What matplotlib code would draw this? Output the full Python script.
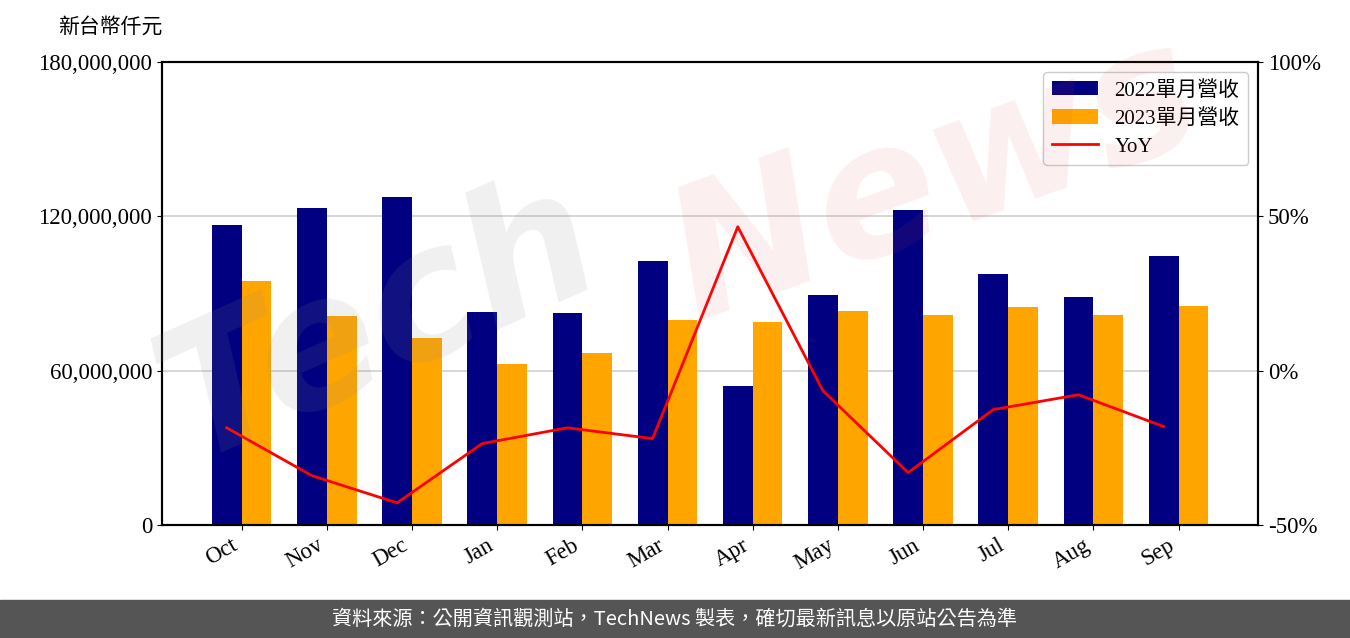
import numpy as np
import matplotlib
matplotlib.use("Agg")
from matplotlib import pyplot as plt
from matplotlib.ticker import FuncFormatter

plt.rcParams['font.family'] = ['Liberation Serif', 'Noto Sans CJK TC']

# Monthly revenue (NT$ thousand)
months = ['Oct', 'Nov', 'Dec', 'Jan', 'Feb', 'Mar', 'Apr', 'May', 'Jun', 'Jul', 'Aug', 'Sep']
rev_2022 = [116.6e6, 123.2e6, 127.5e6, 82.8e6, 82.4e6, 102.6e6, 54.0e6, 89.4e6, 122.5e6, 97.6e6, 88.6e6, 104.6e6]
rev_2023 = [94.9e6, 81.3e6, 72.7e6, 62.6e6, 66.9e6, 79.7e6, 78.9e6, 83.2e6, 81.6e6, 84.8e6, 81.6e6, 85.1e6]
yoy = [-18.5, -34.0, -42.8, -23.6, -18.5, -22.0, 46.6, -6.5, -33.0, -12.6, -7.8, -18.1]

fig = plt.figure(figsize=(13.5, 6.38), dpi=100)
ax = fig.add_axes([0.12, 0.177, 0.812, 0.726])

x = np.arange(len(months))
w = 0.35
b1 = ax.bar(x, rev_2022, w, color='#000080')
b2 = ax.bar(x + w, rev_2023, w, color='#FFA500')
ax.set_ylim(0, 180e6)
ax.set_yticks([0, 60e6, 120e6, 180e6])
ax.yaxis.set_major_formatter(FuncFormatter(lambda v, p: f'{int(v):,}'))
ax.set_xticks(x + w / 2)
ax.set_xticklabels(months, rotation=30, ha='right')
ax.tick_params(labelsize=16.5)
ax.grid(axis='y', color='#d0d0d0', linewidth=1.2)
ax.set_axisbelow(True)
for s in ax.spines.values():
    s.set_linewidth(1.5)

ax2 = ax.twinx()
l1, = ax2.plot(x, yoy, color='red', linewidth=2)
ax2.set_ylim(-50, 100)
ax2.set_yticks([-50, 0, 50, 100])
ax2.yaxis.set_major_formatter(FuncFormatter(lambda v, p: f'{int(v)}%'))
ax2.tick_params(labelsize=16.5)
for s in ax2.spines.values():
    s.set_linewidth(1.5)

ax2.legend([b1, b2, l1], ['2022單月營收', '2023單月營收', 'YoY'], loc='upper right',
           fontsize=15, framealpha=1, edgecolor='#cccccc', handlelength=2.2,
           labelspacing=0.4)

fig.text(0.043, 0.957, '新台幣仟元', fontsize=15, va='center', ha='left')

# watermark
fig.text(0.10, 0.28, 'Tech', fontsize=130, fontweight='bold', style='italic',
         color='#888888', alpha=0.13, rotation=24, family='DejaVu Sans')
fig.text(0.48, 0.50, 'News', fontsize=130, fontweight='bold', style='italic',
         color='#e05050', alpha=0.09, rotation=20, family='DejaVu Sans')

# footer band
fig.patches.append(plt.Rectangle((0, 0), 1, 0.06, transform=fig.transFigure,
                                 color='#555555', zorder=0))
fig.text(0.5, 0.03, '資料來源：公開資訊觀測站，TechNews 製表，確切最新訊息以原站公告為準',
         color='white', fontsize=14.5, ha='center', va='center', family=['Noto Sans CJK TC'])

fig.savefig('out.png', dpi=100)
